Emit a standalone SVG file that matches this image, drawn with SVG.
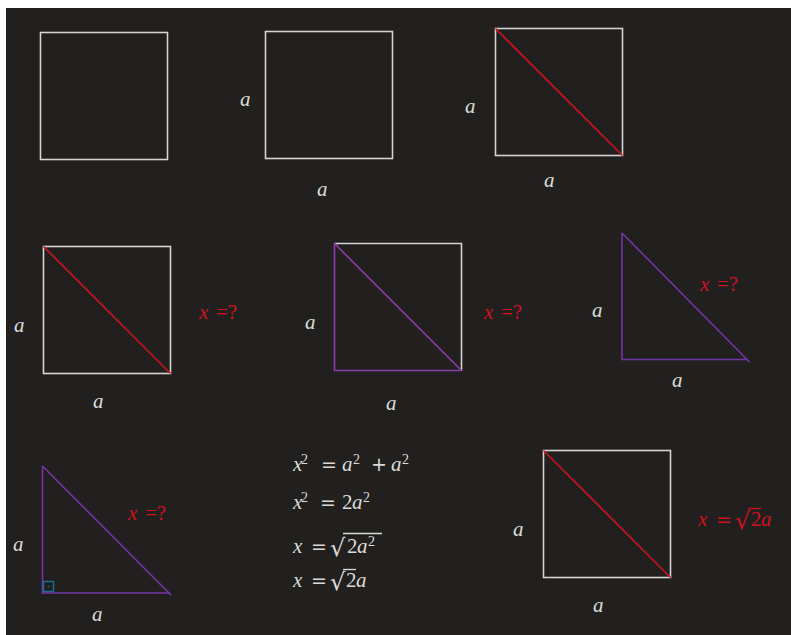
<svg xmlns="http://www.w3.org/2000/svg" width="791" height="635" viewBox="0 0 791 635">
<style>
.w{fill:none;stroke:#d6d4d2;stroke-width:1.6}
.r{fill:none;stroke:#d0121f;stroke-width:1.6}
.p{fill:none;stroke:#7434a4;stroke-width:1.6}
.p2{fill:none;stroke:#8c3ca8;stroke-width:1.6}
text{font-family:"Liberation Serif","DejaVu Serif",serif;font-size:21px;fill:#dcdad8}
.i{font-style:italic}
.red{fill:#d0121f}
.eq{font-size:21px}
.sup{font-size:14px}
.op{font-family:"DejaVu Sans","Liberation Sans",sans-serif;font-size:19px}
.rad{font-family:"DejaVu Sans","Liberation Sans",sans-serif;font-size:24px}
.bar{stroke:#dcdad8;stroke-width:1.3}
.rbar{stroke:#d0121f;stroke-width:1.3}
</style>
<rect x="0" y="0" width="791" height="635" fill="#ffffff"/>
<rect x="6" y="8" width="785" height="627" fill="#21201f"/>

<g id="fig1">
<rect class="w" x="40.5" y="32.5" width="127" height="127"/>
</g>

<g id="fig2">
<rect class="w" x="265.5" y="31.5" width="127" height="127"/>
<text class="i" x="240" y="106">a</text>
<text class="i" x="317" y="196">a</text>
</g>

<g id="fig3">
<rect class="w" x="495.5" y="28.5" width="127" height="127"/>
<line class="r" x1="495.5" y1="28.5" x2="622.5" y2="155.5"/>
<text class="i" x="465" y="113">a</text>
<text class="i" x="544" y="187">a</text>
</g>

<g id="fig4">
<rect class="w" x="43.5" y="246.5" width="127" height="127"/>
<line class="r" x1="43.5" y1="246.5" x2="170.5" y2="373.5"/>
<text class="i" x="14" y="332">a</text>
<text class="i" x="93" y="408">a</text>
<text class="red" x="199" y="319"><tspan class="i">x</tspan><tspan x="216">=?</tspan></text>
</g>

<g id="fig5">
<path class="w" d="M334.5 243.5 H461.5 V371"/>
<path class="p2" d="M334.5 243.5 V370.5 H461.5"/>
<line class="p2" x1="334.5" y1="243.5" x2="461.5" y2="370.5"/>
<text class="i" x="305" y="329">a</text>
<text class="i" x="386" y="410">a</text>
<text class="red" x="484" y="319"><tspan class="i">x</tspan><tspan x="501">=?</tspan></text>
</g>

<g id="fig6">
<path class="p" d="M622 233 V359.5 H748"/>
<line class="p" x1="622" y1="233" x2="749.5" y2="362"/>
<text class="i" x="592" y="317">a</text>
<text class="i" x="672" y="387">a</text>
<text class="red" x="700" y="291"><tspan class="i">x</tspan><tspan x="717">=?</tspan></text>
</g>

<g id="fig7">
<path class="p" d="M42.5 466 V593 H170"/>
<line class="p" x1="42.5" y1="466" x2="171" y2="595"/>
<rect x="43.5" y="581.5" width="10" height="10" fill="none" stroke="#1a6e9c" stroke-width="1.4"/>
<circle cx="48.5" cy="586.5" r="0.8" fill="#1a6e9c"/>
<text class="i" x="13" y="551">a</text>
<text class="i" x="92" y="621">a</text>
<text class="red" x="128" y="520"><tspan class="i">x</tspan><tspan x="145">=?</tspan></text>
</g>

<g id="equations">
<text class="eq" y="471"><tspan class="i" x="293">x</tspan><tspan class="sup" x="301" y="464">2</tspan><tspan class="op" x="321" y="471">=</tspan><tspan class="i" x="342">a</tspan><tspan class="sup" x="353" y="464">2</tspan><tspan class="op" x="371" y="471">+</tspan><tspan class="i" x="391">a</tspan><tspan class="sup" x="402" y="464">2</tspan></text>
<text class="eq" y="509"><tspan class="i" x="293">x</tspan><tspan class="sup" x="301" y="502">2</tspan><tspan class="op" x="320" y="509">=</tspan><tspan x="342">2</tspan><tspan class="i" x="352">a</tspan><tspan class="sup" x="363" y="502">2</tspan></text>
<text class="eq" y="553"><tspan class="i" x="293">x</tspan><tspan class="op" x="311">=</tspan><tspan class="rad" x="330" y="556">√</tspan><tspan x="347" y="553">2</tspan><tspan class="i" x="357">a</tspan><tspan class="sup" x="368" y="546">2</tspan></text>
<line class="bar" x1="343" y1="533.5" x2="382" y2="533.5"/>
<text class="eq" y="587"><tspan class="i" x="293">x</tspan><tspan class="op" x="311">=</tspan><tspan class="rad" x="330" y="590">√</tspan><tspan x="346" y="587">2</tspan><tspan class="i" x="356">a</tspan></text>
<line class="bar" x1="343" y1="569.5" x2="356" y2="569.5"/>
</g>

<g id="fig8">
<rect class="w" x="543.5" y="450.5" width="127" height="127"/>
<line class="r" x1="543.5" y1="450.5" x2="670.5" y2="577.5"/>
<text class="i" x="513" y="536">a</text>
<text class="i" x="593" y="612">a</text>
<text class="red eq" y="526"><tspan class="i" x="698">x</tspan><tspan class="op" x="716">=</tspan><tspan class="rad" x="735" y="529">√</tspan><tspan x="751" y="526">2</tspan><tspan class="i" x="761">a</tspan></text>
<line class="rbar" x1="748" y1="508.5" x2="761" y2="508.5"/>
</g>
</svg>
